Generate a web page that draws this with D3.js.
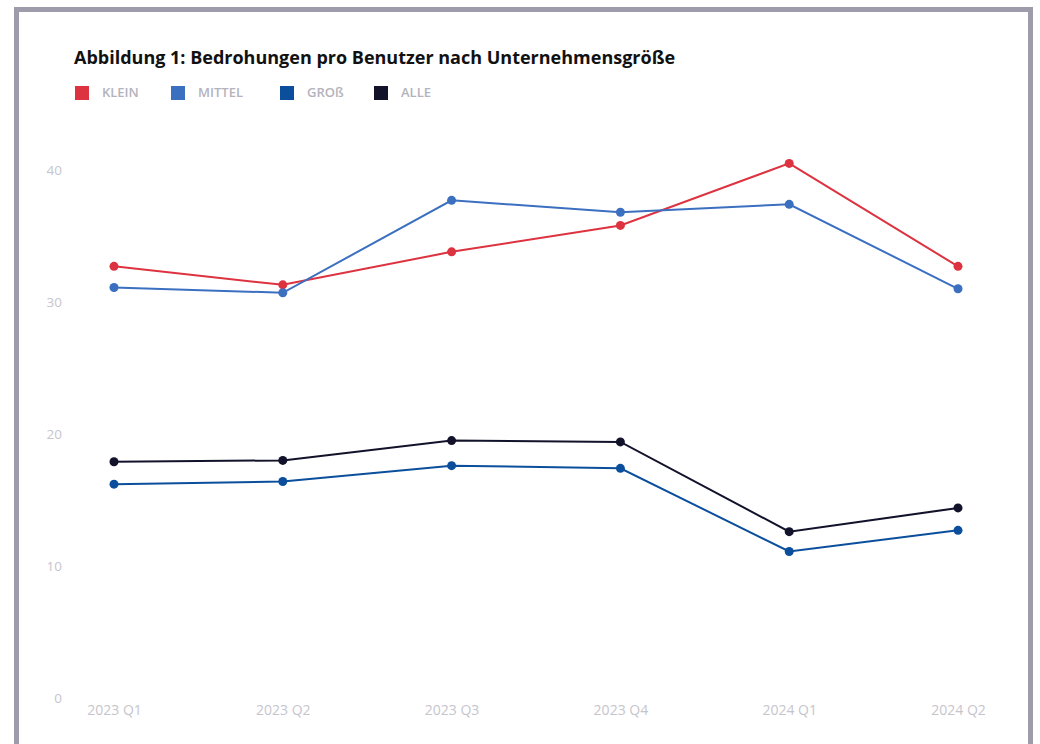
<!DOCTYPE html>
<html>
<head>
<meta charset="utf-8">
<script src="https://cdn.jsdelivr.net/npm/d3@7"></script>
<style>
  body { margin: 0; background: #fff; font-family: "Open Sans", sans-serif; }
</style>
</head>
<body>
<div id="chart"></div>
<script>
// data
var quarters = ["2023 Q1", "2023 Q2", "2023 Q3", "2023 Q4", "2024 Q1", "2024 Q2"]
var klein  = [32.7, 31.3, 33.8, 35.8, 40.5, 32.7]
var mittel = [31.1, 30.7, 37.7, 36.8, 37.4, 31.0]
var gross  = [16.2, 16.4, 17.6, 17.4, 11.1, 12.7]
var alle   = [17.9, 18.0, 19.5, 19.4, 12.6, 14.4]
var seriesNames = ["KLEIN", "MITTEL", "GROß", "ALLE"]
var yTicks = [0, 10, 20, 30, 40]

var colors = ["#dd323f", "#3b6fc0", "#0b4f9c", "#12122b"]
var series = [klein, mittel, gross, alle].map(function(v, i) {
  return { name: seriesNames[i], values: v, color: colors[i] }
})

var width = 1040, height = 744

var svg = d3.select("#chart")
  .append("svg")
    .attr("width", width)
    .attr("height", height)

// grey frame round the card
svg.append("rect")
  .attr("x", 16.5).attr("y", 9.5)
  .attr("width", 1014).attr("height", 760)
  .attr("fill", "#fff")
  .attr("stroke", "#9e9cab")
  .attr("stroke-width", 5)

svg.append("text")
  .attr("x", 74).attr("y", 64)
  .text("Abbildung 1: Bedrohungen pro Benutzer nach Unternehmensgröße")
  .style("font-size", "18px")
  .style("font-weight", 700)
  .style("fill", "#111")

// legend
var legendX = [75, 171, 280, 374]
var legend = svg.selectAll(".legend")
  .data(series)
  .enter().append("g")
    .attr("transform", function(d, i) { return "translate(" + legendX[i] + ",86)" })
legend.append("rect")
  .attr("width", 14).attr("height", 14)
  .attr("fill", function(d) { return d.color })
legend.append("text")
  .attr("x", 27).attr("y", 11)
  .text(function(d) { return d.name })
  .style("font-size", "13px")
  .style("font-weight", 600)
  .style("fill", "#b4b3bd")

var x = d3.scalePoint()
  .domain(quarters)
  .range([114, 958])

var y = d3.scaleLinear()
  .domain([0, 40])
  .range([698, 170])

// y axis labels only
var yAxis = svg.append("g")
  .attr("transform", "translate(62,0)")
  .call(d3.axisLeft(y).tickValues(yTicks).tickSize(0).tickPadding(0))
yAxis.select(".domain").remove()
yAxis.selectAll("text")
  .style("font-family", "Open Sans, sans-serif")
  .style("font-size", "13.5px")
  .style("fill", "#c6c5cc")

// x axis labels only
var xAxis = svg.append("g")
  .attr("transform", "translate(0,705)")
  .call(d3.axisBottom(x).tickSize(0).tickPadding(0))
xAxis.select(".domain").remove()
xAxis.selectAll("text")
  .style("font-family", "Open Sans, sans-serif")
  .style("font-size", "14px")
  .style("fill", "#c6c5cc")

var line = d3.line()
  .x(function(d, i) { return x(quarters[i]) })
  .y(function(d) { return y(d) })

var groups = svg.selectAll(".series")
  .data(series)
  .enter().append("g")

groups.append("path")
  .attr("d", function(d) { return line(d.values) })
  .attr("fill", "none")
  .attr("stroke", function(d) { return d.color })
  .attr("stroke-width", 2)

groups.selectAll("circle")
  .data(function(d) { return d.values.map(function(v, i) { return { v: v, i: i, color: d.color } }) })
  .enter().append("circle")
    .attr("cx", function(d) { return x(quarters[d.i]) })
    .attr("cy", function(d) { return y(d.v) })
    .attr("r", 4.5)
    .attr("fill", function(d) { return d.color })
</script>
</body>
</html>
